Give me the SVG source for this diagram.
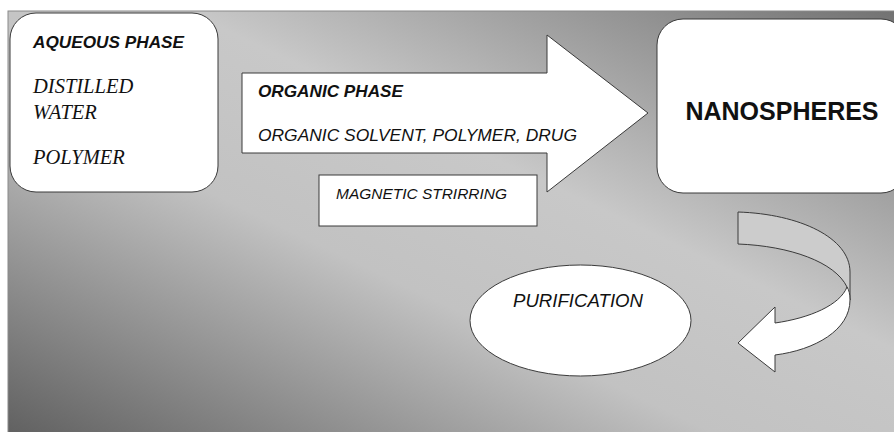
<svg xmlns="http://www.w3.org/2000/svg" width="894" height="432" viewBox="0 0 894 432">
  <defs>
    <linearGradient id="bg" x1="0" y1="1" x2="1" y2="0">
      <stop offset="0" stop-color="#606060"/>
      <stop offset="0.4" stop-color="#c2c2c2"/>
      <stop offset="0.6" stop-color="#c8c8c8"/>
      <stop offset="1" stop-color="#727272"/>
    </linearGradient>
    <style>
      .shape { fill: #ffffff; stroke: #3a3a3a; stroke-width: 1; }
      .sans { font-family: "Liberation Sans", Arial, sans-serif; fill: #111; }
      .serif { font-family: "Liberation Serif", "Times New Roman", serif; fill: #111; font-style: italic; }
      .bi { font-weight: bold; font-style: italic; }
      .it { font-style: italic; }
    </style>
  </defs>
  <rect width="894" height="432" fill="#ffffff"/>
  <rect id="background" x="8" y="11" width="890" height="425" fill="url(#bg)" stroke="#8a8a8a" stroke-width="1"/>

  <g id="aqueous-phase">
    <rect class="shape" x="10" y="13" width="208" height="179" rx="26" ry="26"/>
    <text class="sans bi" x="33" y="48" font-size="16.5" textLength="151" lengthAdjust="spacingAndGlyphs">AQUEOUS PHASE</text>
    <text class="serif" x="33" y="93" font-size="20.5">DISTILLED</text>
    <text class="serif" x="33" y="119" font-size="20.5">WATER</text>
    <text class="serif" x="33" y="164" font-size="20.5">POLYMER</text>
  </g>

  <g id="organic-phase">
    <polygon class="shape" points="242,73 547,73 547,35 648,113 547,192 547,153 242,153"/>
    <text class="sans bi" x="258" y="97" font-size="16.5" textLength="145" lengthAdjust="spacingAndGlyphs">ORGANIC PHASE</text>
    <text class="sans it" x="258" y="141" font-size="16" textLength="319" lengthAdjust="spacingAndGlyphs">ORGANIC SOLVENT, POLYMER, DRUG</text>
  </g>

  <g id="magnetic-stirring">
    <rect class="shape" x="319" y="175" width="218" height="51"/>
    <text class="sans it" x="336" y="199" font-size="15" textLength="171" lengthAdjust="spacingAndGlyphs">MAGNETIC STRIRRING</text>
  </g>

  <g id="nanospheres">
    <rect class="shape" x="657" y="19" width="250" height="174" rx="26" ry="26"/>
    <text class="sans" x="782" y="120" font-size="25" font-weight="bold" text-anchor="middle">NANOSPHERES</text>
  </g>

  <g id="purification">
    <ellipse class="shape" cx="580.5" cy="320.5" rx="110.5" ry="55.5"/>
    <text class="sans it" x="513" y="307" font-size="18" textLength="130" lengthAdjust="spacingAndGlyphs">PURIFICATION</text>
  </g>

  <g id="connectors">
    <path fill="#cccccc" stroke="#3a3a3a" stroke-width="1" d="M738,212 L738,244 C790,246 835,262 847,287 L850,300 L850,272 C850,238 800,214 738,212 Z"/>
    <path class="shape" d="M847,287 C849,290 850,294 850,300 C850,330 815,350 775,355 L775,372 L738,343 L775,307 L775,323 C810,318 840,305 847,287 Z"/>
  </g>
</svg>
